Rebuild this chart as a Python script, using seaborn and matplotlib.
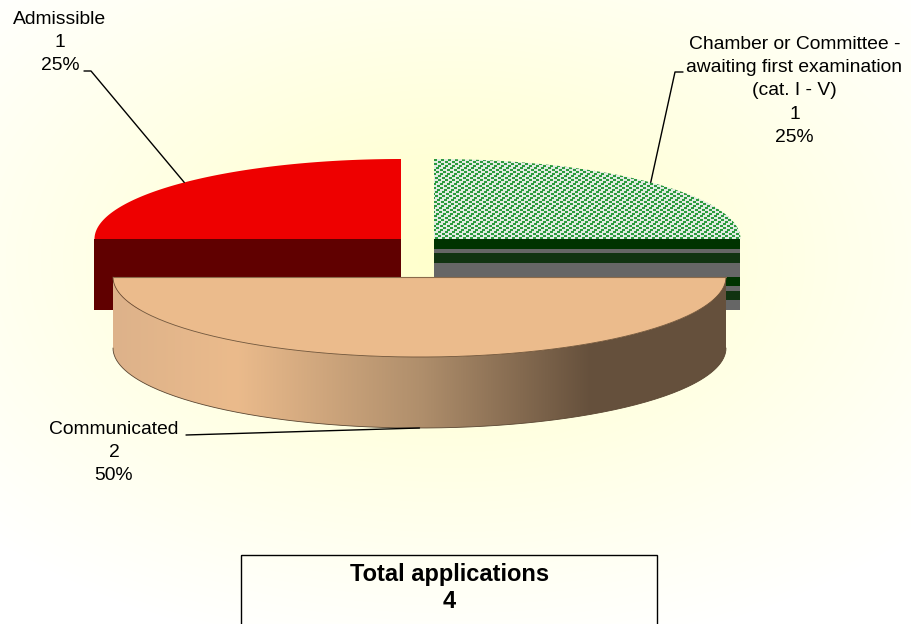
import numpy as np
import matplotlib
matplotlib.use("Agg")
import matplotlib.pyplot as plt
from matplotlib.colors import LinearSegmentedColormap
from matplotlib.patches import Polygon, Rectangle
import seaborn as sns

# data, clockwise from 12 o'clock
categories = ["Chamber or Committee -\nawaiting first examination\n(cat. I - V)", "Communicated", "Admissible"]
counts = [1, 2, 1]
total_label = "Total applications"

# layout, in image pixels
RX, RY, DEPTH = 306.5, 80, 71
CENTRES = [(434, 239), (419.5, 277), (401, 239)]
LABEL_POS = [(794.5, 44.5), (114, 429.5), (60, 19.5)]
LEADERS = [[(683, 72), (675, 72)], [(186, 435)], [(84, 71), (91, 71)]]
LINE_H = 23.2

sns.set_theme(style="white")
plt.rcParams["font.family"] = ["Liberation Sans", "DejaVu Sans"]

fig = plt.figure(figsize=(9.12, 6.24), dpi=100)
ax = fig.add_axes([0, 0, 1, 1])

# ── background glow ──────────────────────────────────────────────────────────
yy, xx = np.mgrid[0:624, 0:912]
dist = np.clip(np.hypot((xx - 450) / 640, (yy - 260) / 400), 0, 1)
bg_cmap = sns.blend_palette(["#FFFFCC", "#FFFFD6", "#FFFFE4", "#FFFFF2", "#FFFFFF"], as_cmap=True)
ax.imshow(dist, cmap=bg_cmap, vmin=0, vmax=1, extent=(0, 912, 624, 0), aspect="auto", zorder=0)


def rim(cx, cy, t0, t1, n=200):
    t = np.radians(np.linspace(t0, t1, n))
    return np.column_stack([cx + RX * np.sin(t), cy - RY * np.cos(t)])


def clipped_image(img, extent, path_pts, zorder, **kw):
    im = ax.imshow(img, extent=extent, aspect="auto", zorder=zorder, interpolation="nearest", **kw)
    clip = Polygon(path_pts, closed=True, transform=ax.transData, fc="none", ec="none")
    ax.add_patch(clip)
    im.set_clip_path(clip)


# ── slices ───────────────────────────────────────────────────────────────────
angles = np.cumsum([0] + counts) / sum(counts) * 360
pct = [c / sum(counts) * 100 for c in counts]

# 0: Chamber (green dots on top, striped cut face)
a0, a1 = angles[0], angles[1]
cx, cy = CENTRES[0]
top = np.vstack([[cx, cy], rim(cx, cy, a0, a1)])
face_x = cx + RX * np.sin(np.radians(a1))
ax.add_patch(Rectangle((cx, cy), face_x - cx, DEPTH, fc="#666666", ec="none", zorder=2))
for off, h, col in [(0, 9.5, "#003300"), (14, 9.5, "#113311"), (37.5, 9, "#003300"), (51.5, 9.5, "#113311")]:
    ax.add_patch(Rectangle((cx, cy + off), face_x - cx, h, fc=col, ec="none", zorder=2.1))
x0, y0 = int(cx), int(cy - RY)
w, h = int(RX) + 2, int(RY) + 1
tile = np.zeros((h, w))
for row in range(h):
    shift = (row // 2) * 3 + (row // 4) % 2
    tile[row] = ((np.arange(w) + shift) % 7 < 3).astype(float)
dots = LinearSegmentedColormap.from_list("dots", ["#E2EAE2", "#2A9A3C"])
clipped_image(tile, (x0, x0 + w, y0 + h, y0), top, 2.2, cmap=dots, vmin=0, vmax=1)

# 2: Admissible (red)
a0, a1 = angles[2], angles[3]
cx, cy = CENTRES[2]
face_x = cx + RX * np.sin(np.radians(a0))
ax.add_patch(Rectangle((face_x, cy), cx - face_x, DEPTH, fc="#600000", ec="none", zorder=2))
ax.add_patch(Polygon(np.vstack([[cx, cy], rim(cx, cy, a0, a1)]), fc="#EE0000", ec="none", zorder=2.2))

# 1: Communicated (tan, shaded wall, sits in front)
a0, a1 = angles[1], angles[2]
cx, cy = CENTRES[1]
front = rim(cx, cy, a0, a1)
wall = np.vstack([front, (front + [0, DEPTH])[::-1]])
wall_cmap = LinearSegmentedColormap.from_list(
    "wall", [(0, "#DDB28A"), (0.2, "#EBBB8C"), (0.5, "#B08F6C"), (0.78, "#65503C"), (1, "#65503C")], N=612)
grad = np.linspace(0, 1, 612).reshape(1, -1)
clipped_image(grad, (cx - RX, cx + RX, cy + RY + DEPTH + 1, cy), wall, 3, cmap=wall_cmap, vmin=0, vmax=1)
ax.add_patch(Polygon(np.vstack([[cx, cy], front]), fc="#EBBB8C", ec="none", zorder=3.2))
ax.plot(front[:, 0], front[:, 1], color="#6E5238", lw=0.6, zorder=3.3)
ax.plot(front[:, 0], front[:, 1] + DEPTH, color="#5A4632", lw=0.6, zorder=3.3)
ax.plot([cx - RX, cx + RX], [cy, cy], color="#8A6A4A", lw=0.8, zorder=3.3)

# ── labels and leader lines ──────────────────────────────────────────────────
for i, cat in enumerate(categories):
    mid = np.radians((angles[i] + angles[i + 1]) / 2)
    cx, cy = CENTRES[i]
    tx, ty = cx + RX * np.sin(mid), cy - RY * np.cos(mid)
    if i == 1:
        ty += DEPTH
    pts = LEADERS[i] + [(tx, ty)]
    ax.plot([p[0] for p in pts], [p[1] for p in pts], color="black", lw=1, zorder=5)
    lines = cat.split("\n") + [str(counts[i]), f"{pct[i]:.0f}%"]
    lx, ly = LABEL_POS[i]
    for j, line in enumerate(lines):
        ax.text(lx, ly + j * LINE_H, line, ha="center", va="center", fontsize=13.9, color="#000000", zorder=6)

# ── total box, runs off the bottom of the picture ────────────────────────────
ax.add_patch(Rectangle((241.5, 554.5), 416, 90, fc="none", ec="black", lw=1, zorder=5))
ax.text(449.5, 575, total_label, ha="center", va="center", fontsize=17, fontweight="bold", color="black", zorder=6)
ax.text(449.5, 601.5, str(sum(counts)), ha="center", va="center", fontsize=17, fontweight="bold", color="black", zorder=6)

ax.set_xlim(0, 912)
ax.set_ylim(624, 0)
ax.axis("off")
fig.savefig("out.png", dpi=100)
